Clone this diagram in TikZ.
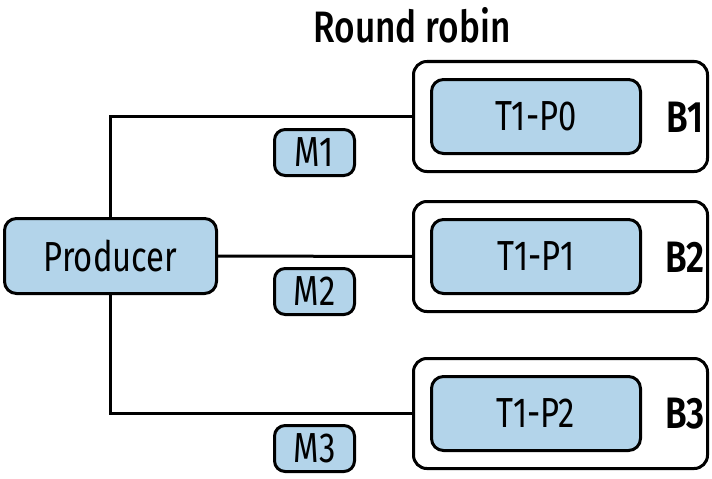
\documentclass[tikz,border=0pt]{standalone}
\usepackage{fontspec}
\setmainfont{Fira Sans}[FakeStretch=0.78]
\newfontfamily\medfont{Fira Sans Medium}[FakeStretch=0.8]
\newfontfamily\semifont{Fira Sans SemiBold}[FakeStretch=0.8]
\definecolor{boxblue}{HTML}{B3D4EA}
\begin{document}
\begin{tikzpicture}[x=0.75pt,y=-0.75pt,
  every node/.style={inner sep=0pt,outer sep=0pt},
  bluebox/.style={draw=black,line width=2.25pt,rounded corners=9pt,fill=boxblue,font=\fontsize{31.5}{34}\selectfont},
  outerbox/.style={draw=black,line width=2.25pt,rounded corners=10pt,fill=white,minimum width=220.5pt,minimum height=82.5pt},
  lbl/.style={font=\fontsize{33}{36}\selectfont\semifont},
  conn/.style={draw=black,line width=2.25pt}]
\useasboundingbox (0,0) rectangle (712,478);
% brokers
\node[outerbox] (b1) at (560.5,116.5) {};
\node[outerbox] (b2) at (560.5,256.5) {};
\node[outerbox] (b3) at (560.5,413.5) {};
\node[bluebox,minimum width=156.75pt,minimum height=55.5pt] (p0) at (536,116.5) {T1-P0};
\node[bluebox,minimum width=156.75pt,minimum height=55.5pt] (p1) at (536,256.5) {T1-P1};
\node[bluebox,minimum width=156.75pt,minimum height=55.5pt] (p2) at (536,413.5) {T1-P2};
\node[lbl] (l1) at (685,117) {B1};
\node[lbl] (l2) at (685,257) {B2};
\node[lbl] (l3) at (685,414) {B3};
% producer
\node[bluebox,minimum width=159pt,minimum height=56.25pt] (prod) at (110.5,256) {Producer};
% connectors
\draw[conn] (prod.north) |- (b1.west);
\draw[conn] (prod.east) -- (b2.west);
\draw[conn] (prod.south) |- (b3.west);
% messages
\node[bluebox,minimum width=60pt,minimum height=34.5pt,rounded corners=8pt] (m1) at (314.5,152.5) {M1};
\node[bluebox,minimum width=60pt,minimum height=34.5pt,rounded corners=8pt] (m2) at (314.5,291.5) {M2};
\node[bluebox,minimum width=60pt,minimum height=34.5pt,rounded corners=8pt] (m3) at (314.5,448.5) {M3};
% title
\node[font=\fontsize{33}{36}\selectfont\medfont] (title) at (412,25) {Round robin};
\end{tikzpicture}
\end{document}
